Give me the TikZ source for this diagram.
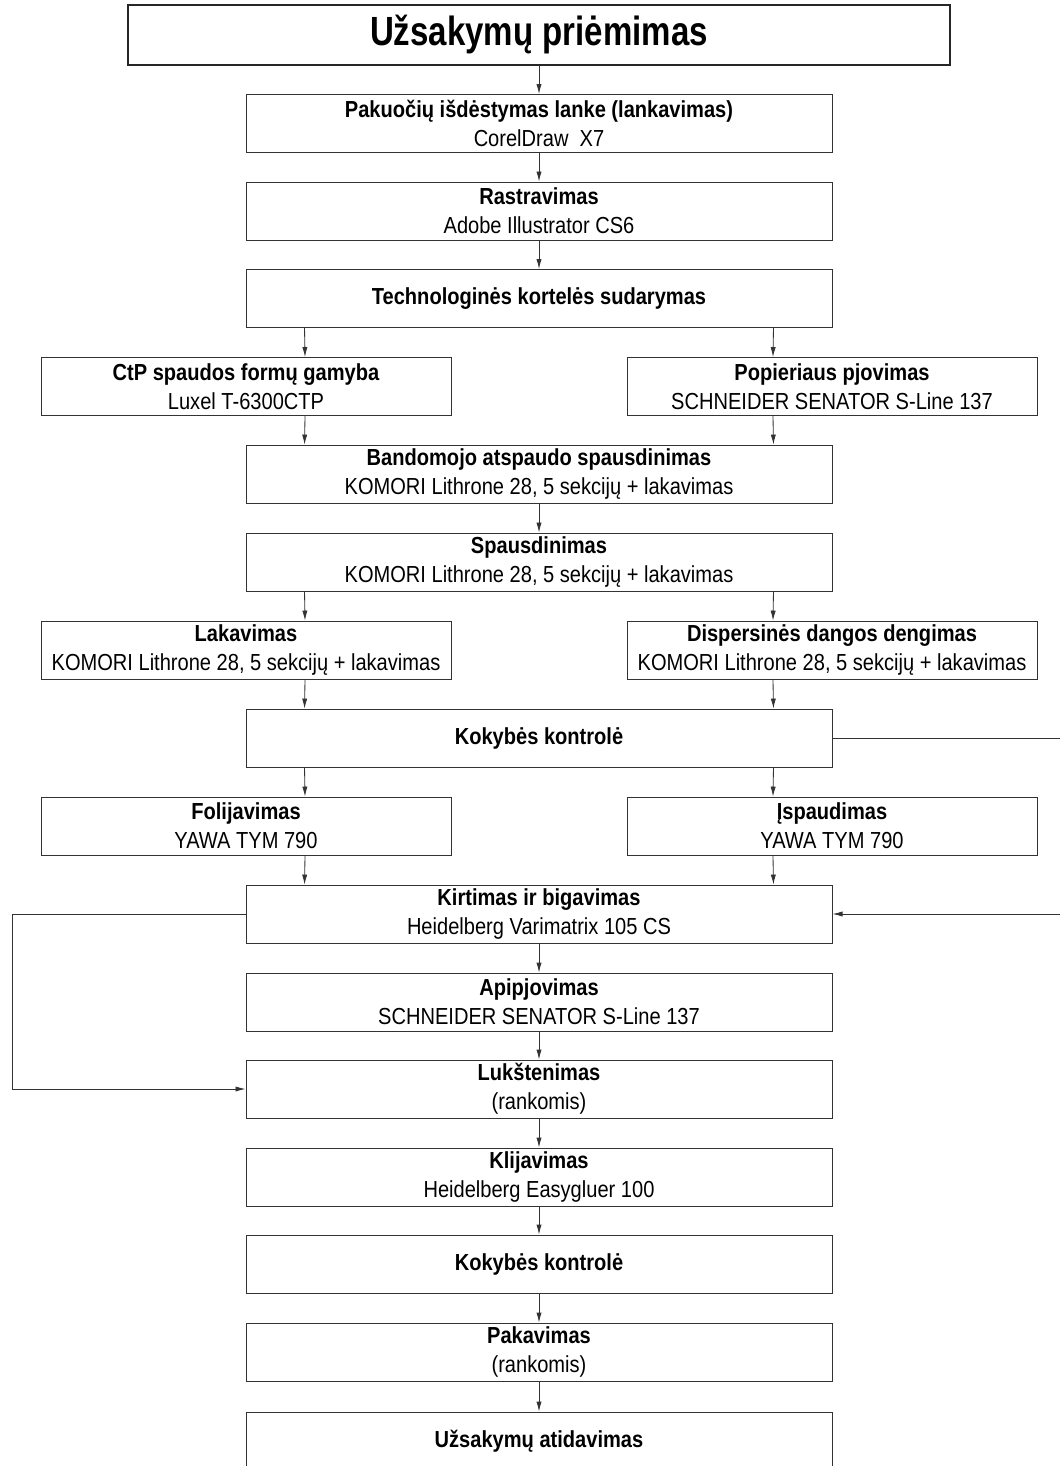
\documentclass[tikz,border=0pt]{standalone}
\usepackage{fontspec}
\setmainfont{Liberation Sans}[FakeStretch=0.865]
\newfontfamily\titlefont{Liberation Sans}[FakeStretch=0.81]
\usetikzlibrary{arrows.meta}

\tikzset{
  line/.style={draw=black!80, line width=0.6pt},
  arr/.style={line, -{Latex[length=2.5mm, width=1.3mm]}},
  mainbox/.style={rectangle, line, align=center, minimum width=14.65cm, minimum height=1.45cm, inner sep=0pt, font=\fontsize{16.5}{20.5}\selectfont},
  sidebox/.style={mainbox, minimum width=10.25cm},
  titlebox/.style={rectangle, draw=black!85, line width=1pt, minimum width=20.55cm, minimum height=1.5cm, font=\titlefont\fontsize{29}{34}\selectfont\bfseries}
}

\begin{document}
\begin{tikzpicture}[x=0.025cm, y=-0.025cm]
    \useasboundingbox (0,0) rectangle (1059,1466);

    \node [titlebox] (priem) at (539,35) {Užsakymų priėmimas};
    \node [mainbox] (lank) at (539,123.5) {\textbf{Pakuočių išdėstymas lanke (lankavimas)}\\CorelDraw\ \ X7};
    \node [mainbox] (rast) at (539,211) {\textbf{Rastravimas}\\Adobe Illustrator CS6};
    \node [mainbox] (tech) at (539,298.5) {\textbf{Technologinės kortelės sudarymas}};
    \node [sidebox] (ctp) at (246,386.5) {\textbf{CtP spaudos formų gamyba}\\Luxel T-6300CTP};
    \node [sidebox] (pjov) at (832,386.5) {\textbf{Popieriaus pjovimas}\\SCHNEIDER SENATOR S-Line 137};
    \node [mainbox] (band) at (539,474) {\textbf{Bandomojo atspaudo spausdinimas}\\KOMORI Lithrone 28, 5 sekcijų + lakavimas};
    \node [mainbox] (spaud) at (539,562) {\textbf{Spausdinimas}\\KOMORI Lithrone 28, 5 sekcijų + lakavimas};
    \node [sidebox] (lak) at (246,650) {\textbf{Lakavimas}\\KOMORI Lithrone 28, 5 sekcijų + lakavimas};
    \node [sidebox] (disp) at (832,650) {\textbf{Dispersinės dangos dengimas}\\KOMORI Lithrone 28, 5 sekcijų + lakavimas};
    \node [mainbox] (kok) at (539,738) {\textbf{Kokybės kontrolė}};
    \node [sidebox] (fol) at (246,826) {\textbf{Folijavimas}\\YAWA TYM 790};
    \node [sidebox] (ispaud) at (832,826) {\textbf{Įspaudimas}\\YAWA TYM 790};
    \node [mainbox] (kirt) at (539,914) {\textbf{Kirtimas ir bigavimas}\\Heidelberg Varimatrix 105 CS};
    \node [mainbox] (apip) at (539,1002) {\textbf{Apipjovimas}\\SCHNEIDER SENATOR S-Line 137};
    \node [mainbox] (luk) at (539,1089) {\textbf{Lukštenimas}\\(rankomis)};
    \node [mainbox] (klij) at (539,1177) {\textbf{Klijavimas}\\Heidelberg Easygluer 100};
    \node [mainbox] (kok2) at (539,1264) {\textbf{Kokybės kontrolė}};
    \node [mainbox] (pak) at (539,1352) {\textbf{Pakavimas}\\(rankomis)};
    \node [mainbox] (atid) at (539,1441) {\textbf{Užsakymų atidavimas}};

    \coordinate (lbend) at (12,914);
    \coordinate (rbend) at (1063,738);

    % main column
    \draw [arr] (priem) -- (lank);
    \draw [arr] (lank) -- (rast);
    \draw [arr] (rast) -- (tech);
    \draw [arr] (band) -- (spaud);
    \draw [arr] (kirt) -- (apip);
    \draw [arr] (apip) -- (luk);
    \draw [arr] (luk) -- (klij);
    \draw [arr] (klij) -- (kok2);
    \draw [arr] (kok2) -- (pak);
    \draw [arr] (pak) -- (atid);

    % branches
    \draw [arr] ([xshift=1.475cm]tech.south west) -- ([xshift=1.475cm]ctp.north);
    \draw [arr] ([xshift=-1.475cm]tech.south east) -- ([xshift=-1.475cm]pjov.north);
    \draw [arr] ([xshift=1.475cm]ctp.south) -- ([xshift=1.475cm]band.north west);
    \draw [arr] ([xshift=-1.475cm]pjov.south) -- ([xshift=-1.475cm]band.north east);
    \draw [arr] ([xshift=1.475cm]spaud.south west) -- ([xshift=1.475cm]lak.north);
    \draw [arr] ([xshift=-1.475cm]spaud.south east) -- ([xshift=-1.475cm]disp.north);
    \draw [arr] ([xshift=1.475cm]lak.south) -- ([xshift=1.475cm]kok.north west);
    \draw [arr] ([xshift=-1.475cm]disp.south) -- ([xshift=-1.475cm]kok.north east);
    \draw [arr] ([xshift=1.475cm]kok.south west) -- ([xshift=1.475cm]fol.north);
    \draw [arr] ([xshift=-1.475cm]kok.south east) -- ([xshift=-1.475cm]ispaud.north);
    \draw [arr] ([xshift=1.475cm]fol.south) -- ([xshift=1.475cm]kirt.north west);
    \draw [arr] ([xshift=-1.475cm]ispaud.south) -- ([xshift=-1.475cm]kirt.north east);

    % loops
    \draw [arr] (kirt.west) -- (lbend) |- (luk.west);
    \draw [arr] (kok.east) -- (rbend) |- (kirt.east);
\end{tikzpicture}
\end{document}
